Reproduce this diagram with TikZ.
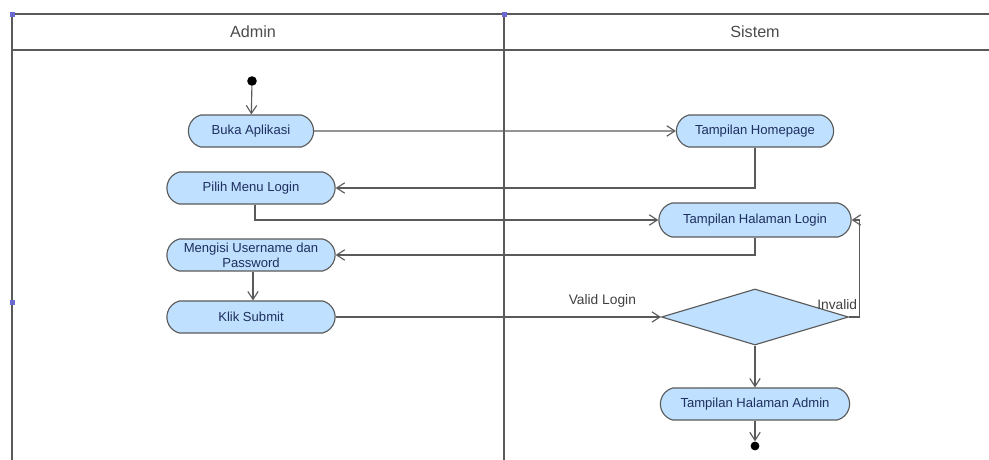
\documentclass[tikz,border=0pt]{standalone}
\usepackage{fontspec}
\setmainfont{Liberation Sans}
\usepackage{xcolor}
\usepackage{tikz}
\usetikzlibrary{shapes,shapes.misc,shapes.geometric,arrows.meta,positioning,calc}

\definecolor{linec}{HTML}{5A5A5A}
\definecolor{actfill}{HTML}{BFE0FF}
\definecolor{acttext}{HTML}{1F2F5F}
\definecolor{handlec}{HTML}{6A6AD0}

\begin{document}
\begin{tikzpicture}[x=0.025cm, y=-0.025cm,
    act/.style={rounded rectangle, rounded rectangle arc length=150, draw=linec, line width=0.8pt,
      fill=actfill, text=acttext, font=\fontsize{9.3}{10.5}\selectfont, align=center,
      minimum height=0.8cm, inner sep=1pt},
    decide/.style={diamond, draw=linec, line width=0.8pt, fill=actfill,
      minimum width=4.675cm, minimum height=1.4cm, inner sep=0pt},
    dot/.style={circle, fill=black, inner sep=0pt, minimum size=2.4mm},
    flow/.style={draw=linec, line width=0.8pt, -{Straight Barb[length=2mm,width=2.6mm]}},
    lane/.style={draw=linec, line width=1pt},
    lbl/.style={text=black!75, font=\fontsize{9.8}{11}\selectfont},
    head/.style={text=black!70, font=\fontsize{11.5}{13}\selectfont}]
        \useasboundingbox (0,0) rectangle (989,460);

        % Swimlanes
        \draw[lane] (12,14) -- (989,14);
        \draw[lane] (12,50) -- (989,50);
        \draw[lane] (12,14) -- (12,460);
        \draw[lane] (504,14) -- (504,460);
        \node[head] (hadmin) at (253,32) {Admin};
        \node[head] (hsistem) at (755,32) {Sistem};

        % Handles
        \foreach \hx/\hy in {12/14, 504/14, 12/302}
          \fill[handlec] (\hx,\hy) +(-2.5,-2.5) rectangle +(2.5,2.5);

        % Admin lane
        \node[dot] (start) at (252,81) {};
        \node[act, minimum width=3.2cm] (buka) at (251,131) {Buka Aplikasi};
        \node[act, minimum width=4.275cm] (pilih) at (251,188) {Pilih Menu Login};
        \node[act, minimum width=4.275cm] (isi) at (251,255) {Mengisi Username dan\\Password};
        \node[act, minimum width=4.275cm] (klik) at (251,317) {Klik Submit};

        % Sistem lane
        \node[act, minimum width=4cm] (home) at (755,131) {Tampilan Homepage};
        \node[act, minimum width=4.875cm, minimum height=0.85cm] (login) at (755,220) {Tampilan Halaman Login};
        \node[decide] (cek) at (755,317) {};
        \node[act, minimum width=4.8cm] (admin) at (755,404) {Tampilan Halaman Admin};
        \node[dot, minimum size=2.2mm] (stop) at (755,446) {};

        % Flows
        \draw[flow] (start) -- (buka);
        \draw[flow] (buka) -- (home);
        \draw[flow] (home.south) |- (pilih.east);
        \draw[flow] ([xshift=0.1cm]pilih.south) |- (login.west);
        \draw[flow] (login.south) |- (isi.east);
        \draw[flow] ([xshift=0.05cm]isi.south) -- ([xshift=0.05cm]klik.north);
        \draw[flow] (klik.east) -- node[lbl, pos=0.82, above=3pt] {Valid Login} (cek.west);
        \draw[flow] (cek.east) -- ++(10,0) node[lbl, pos=1, anchor=south east, inner sep=1pt, yshift=4pt] {Invalid} |- (login.east);
        \draw[flow] (cek.south) -- (admin.north);
        \draw[flow] (admin.south) -- (stop);
      \end{tikzpicture}
\end{document}
